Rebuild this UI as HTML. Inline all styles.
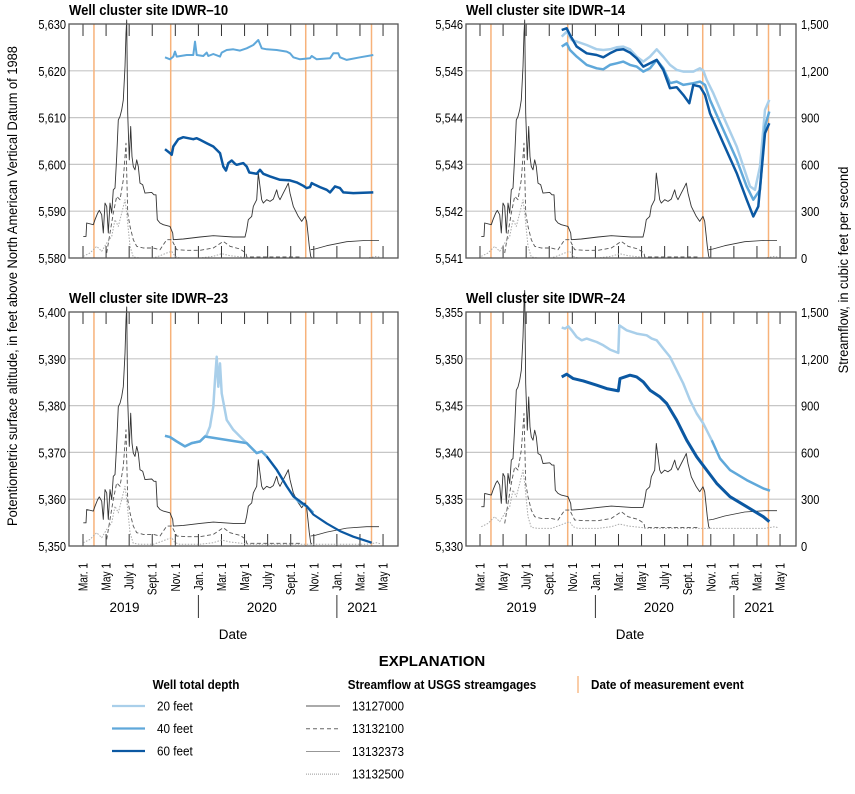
<!DOCTYPE html>
<html><head><meta charset="utf-8"><style>
body{margin:0;background:#fff;width:855px;height:789px;overflow:hidden}
svg{font-family:"Liberation Sans Narrow","Liberation Sans",sans-serif}
</style></head><body>
<svg id="s" width="855" height="789" viewBox="0 0 855 789" xmlns="http://www.w3.org/2000/svg"></svg>
<script>
const S=document.getElementById('s');let H='';
const PALE='#a9cfea',MID='#5fa8da',DARK='#0b58a2',OR='#f7b27a';
const P=[
 {L:69,R:398,T:24,B:258,sh:0, zx0:0,zt:72,zb:775,title:'Well cluster site IDWR\u201310',lab:['5,580','5,590','5,600','5,610','5,620','5,630'],right:false},
 {L:466,R:796,T:24,B:258,sh:398,zx0:430,zt:72,zb:775,title:'Well cluster site IDWR\u201314',lab:['5,541','5,542','5,543','5,544','5,545','5,546'],right:true},
 {L:69,R:398,T:312,B:546,sh:0,zx0:0,zt:75,zb:780,title:'Well cluster site IDWR\u201323',lab:['5,350','5,360','5,370','5,380','5,390','5,400'],right:false},
 {L:466,R:796,T:312,B:546,sh:398,zx0:430,zt:125,zb:828,title:'Well cluster site IDWR\u201324',lab:['5,330','5,335','5,340','5,345','5,350','5,355'],right:true}];
const solid=[[250,710],[258,710],[260,670],[280,675],[285,660],[293,640],[298,632],[305,645],[310,700],[315,610],[320,620],[325,700],[330,610],[335,640],[340,570],[345,565],[350,470],[355,360],[360,350],[365,330],[370,300],[375,200],[378,100],[380,60],[383,340],[388,480],[392,380],[396,470],[400,500],[405,510],[410,480],[415,500],[420,550],[428,555],[435,580],[455,578],[462,585],[468,585],[472,660],[480,670],[490,675],[510,680],[518,700],[520,720],[550,718],[600,712],[640,708],[700,712],[735,712],[740,690],[745,660],[755,650],[760,620],[770,600],[775,520],[780,560],[785,600],[790,610],[800,600],[810,605],[820,598],[830,570],[835,590],[840,600],[850,580],[860,560],[865,550],[870,580],[880,620],[895,650],[905,665],[915,650],[920,665],[928,740],[932,770],[935,775]];
const thin=[[932,750],[945,748],[980,738],[1040,726],[1100,722],[1137,722]];
const dashed=[[320,760],[330,700],[340,640],[350,590],[360,600],[370,540],[378,430],[383,640],[390,680],[400,720],[410,740],[430,745],[460,745],[480,750],[500,720],[515,720],[530,750],[560,752],[600,752],[640,745],[670,725],[690,740],[720,748],[738,760],[740,772],[900,772]];
const dotted=[[250,770],[270,760],[290,740],[305,755],[320,730],[335,710],[345,660],[355,680],[365,640],[375,600],[380,640],[390,740],[400,772],[420,775],[460,775],[480,768],[500,760],[515,755],[525,770],[540,775],[600,775],[640,770],[665,762],[690,768],[735,773],[740,775],[1100,775],[1130,770],[1140,773]];
function pts(a,p,own){return a.map(([x,y])=>{const X=own?p.zx0+x/3:x/3+p.sh;const Y=p.T+(y-p.zt)/(p.zb-p.zt)*(p.B-p.T);return X.toFixed(1)+','+Y.toFixed(1)}).join(' ')}
function line(a,p,own,st){H+=`<polyline points="${pts(a,p,own)}" fill="none" ${st} stroke-linejoin="round"/>`}
const wells=[
 [
  [MID,2,[[495,172],[510,178],[520,170],[525,155],[530,170],[560,165],[580,165],[585,125],[590,165],[610,168],[620,158],[625,168],[640,162],[660,170],[665,158],[680,150],[700,148],[720,152],[740,145],[760,135],[775,120],[785,145],[800,148],[830,150],[860,155],[870,160],[880,172],[900,178],[930,175],[935,168],[950,178],[990,175],[1000,160],[1015,160],[1020,172],[1040,180],[1080,172],[1120,165]]],
  [DARK,2.5,[[495,448],[510,460],[515,465],[520,440],[535,418],[550,412],[580,418],[590,415],[600,420],[620,430],[640,440],[660,460],[670,500],[678,512],[685,490],[695,482],[705,492],[710,495],[730,490],[740,500],[748,518],[770,522],[780,510],[790,522],[810,530],[840,540],[870,542],[890,548],[910,558],[920,565],[930,562],[935,550],[945,555],[960,562],[980,570],[990,578],[1005,560],[1020,565],[1030,578],[1060,580],[1120,578]]]],
 [
  [PALE,2.5,[[395,110],[410,95],[425,120],[440,125],[470,135],[500,148],[520,150],[540,148],[560,142],[580,140],[600,148],[620,170],[640,185],[660,170],[680,148],[700,170],[720,195],[740,210],[760,215],[790,215],[810,205],[820,212],[830,240],[850,280],[880,350],[920,440],[960,560],[975,570],[990,500],[1005,330],[1018,300]]],
  [MID,2.5,[[395,140],[410,130],[420,150],[440,170],[470,195],[500,205],[520,208],[540,195],[560,190],[580,185],[600,195],[620,200],[640,215],[660,205],[680,180],[700,205],[720,250],[740,245],[760,255],[790,250],[810,245],[825,255],[840,300],[880,390],[920,480],[950,560],[970,600],[990,570],[1005,380],[1018,335]]],
  [DARK,2.5,[[395,90],[410,85],[420,105],[440,140],[470,160],[500,165],[520,172],[540,160],[560,150],[580,148],[600,158],[620,175],[640,200],[660,190],[680,180],[700,210],[720,265],[740,262],[760,285],[778,310],[790,255],[810,260],[825,285],[840,340],[880,430],[920,520],[950,600],[970,650],[985,620],[1005,400],[1018,370]]]],
 [
  [PALE,2.5,[[495,448],[510,452],[530,465],[555,480],[575,470],[600,465],[620,445],[630,420],[640,360],[645,280],[650,210],[655,300],[660,230],[665,320],[680,400],[700,430],[720,450],[740,470],[760,490],[770,500],[785,495],[800,510]]],
  [MID,2.5,[[495,448],[510,452],[530,465],[555,480],[575,470],[600,465],[615,450],[740,470],[760,490],[770,500],[785,495],[800,510],[830,550],[860,600],[880,630],[900,650],[920,660],[940,680]]],
  [DARK,2.2,[[800,510],[830,550],[860,600],[880,630],[900,645],[920,660],[940,685],[980,712],[1020,735],[1060,752],[1115,770]]]],
 [
  [PALE,2.5,[[395,172],[405,175],[415,168],[425,180],[440,200],[455,210],[470,205],[485,210],[500,215],[520,225],[540,238],[565,248],[568,165],[590,180],[620,190],[650,195],[665,205],[680,210],[700,235],[720,260],[740,300],[760,340],[780,390],[800,430],[820,460],[845,510]]],
  [MID,2.5,[[845,510],[870,565],[900,600],[950,630],[1000,655],[1020,662]]],
  [DARK,3,[[395,320],[410,312],[430,325],[460,332],[500,345],[530,355],[565,362],[570,325],[600,315],[620,320],[640,335],[660,360],[690,380],[710,400],[740,450],[770,510],[800,560],[830,600],[860,640],[900,680],[950,710],[1000,740],[1018,755]]]]];
const orangeT=[0.95,7.6,19.3,25.0];
P.forEach((p,i)=>{
 const x0=p.L+14;const mx=t=>x0+t*11.54;
 for(let k=1;k<5;k++){const y=p.T+k*(p.B-p.T)/5;H+=`<line x1="${p.L}" x2="${p.R}" y1="${y}" y2="${y}" stroke="#c6c6c6" stroke-width="1.2"/>`}
 for(let k=0;k<14;k++){const x=mx(2*k);H+=`<line x1="${x}" x2="${x}" y1="${p.T}" y2="${p.T+12}" stroke="#333" stroke-width="1"/><line x1="${x}" x2="${x}" y1="${p.B}" y2="${p.B-12}" stroke="#333" stroke-width="1"/>`}
 orangeT.forEach(t=>{const x=mx(t);H+=`<line x1="${x}" x2="${x}" y1="${p.T}" y2="${p.B}" stroke="${OR}" stroke-width="1.5"/>`});
 line(dotted,p,false,'stroke="#aaa" stroke-width="1" stroke-dasharray="1.5,1.5"');
 line(dashed,p,false,'stroke="#555" stroke-width="0.9" stroke-dasharray="4,2.5"');
 line(solid,p,false,'stroke="#333" stroke-width="0.9"');
 line(thin,p,false,'stroke="#333" stroke-width="0.8"');
 wells[i].forEach(([c,w,a])=>line(a,p,true,`stroke="${c}" stroke-width="${w}"`));
 H+=`<rect x="${p.L}" y="${p.T}" width="${p.R-p.L}" height="${p.B-p.T}" fill="none" stroke="#555" stroke-width="1.3"/>`;
 H+=`<text transform="translate(${p.L},${p.T-9}) scale(0.9,1)" font-size="14.5" font-weight="bold">${p.title}</text>`;
 p.lab.forEach((l,k)=>{const y=p.B-k*(p.B-p.T)/5+5;H+=`<text transform="translate(${p.L-3},${y}) scale(0.85,1)" font-size="13" text-anchor="end">${l}</text>`;
  if(p.right)H+=`<text transform="translate(${p.R+5},${y}) scale(0.85,1)" font-size="13">${['0','300','600','900','1,200','1,500'][k]}</text>`});
 if(i>=2){const ms=['Mar. 1','May 1','July 1','Sept. 1','Nov. 1','Jan. 1','Mar. 1','May 1','July 1','Sept. 1','Nov. 1','Jan. 1','Mar. 1','May 1'];
  ms.forEach((m,k)=>{const x=mx(2*k)+4.5;H+=`<text transform="translate(${x},563) rotate(-90) scale(0.78,1)" font-size="13" text-anchor="end">${m}</text>`});
  H+=`<text x="${mx(3.6)}" y="612" font-size="13.5" text-anchor="middle">2019</text><text x="${mx(15.5)}" y="612" font-size="13.5" text-anchor="middle">2020</text><text x="${mx(24.2)}" y="612" font-size="13.5" text-anchor="middle">2021</text>`;
  H+=`<line x1="${mx(10)}" x2="${mx(10)}" y1="595" y2="618" stroke="#333"/><line x1="${mx(22)}" x2="${mx(22)}" y1="595" y2="618" stroke="#333"/>`;
  H+=`<text x="${mx(13)}" y="639" font-size="13.5" text-anchor="middle">Date</text>`;}
});
H+=`<text transform="translate(17,286) rotate(-90) scale(0.92,1)" font-size="14" text-anchor="middle">Potentiometric surface altitude, in feet above North American Vertical Datum of 1988</text>`;
H+=`<text transform="translate(848,270) rotate(-90) scale(0.92,1)" font-size="14" text-anchor="middle">Streamflow, in cubic feet per second</text>`;
H+=`<text x="432" y="666" font-size="15" font-weight="bold" text-anchor="middle">EXPLANATION</text>`;
H+=`<text transform="translate(196,689) scale(0.9,1)" font-size="13" font-weight="bold" text-anchor="middle">Well total depth</text>`;
H+=`<text transform="translate(442,689) scale(0.9,1)" font-size="13" font-weight="bold" text-anchor="middle">Streamflow at USGS streamgages</text>`;
H+=`<line x1="578" x2="578" y1="676" y2="693" stroke="${OR}" stroke-width="1.3"/><text transform="translate(591,689) scale(0.9,1)" font-size="13" font-weight="bold">Date of measurement event</text>`;
[[PALE,'20 feet'],[MID,'40 feet'],[DARK,'60 feet']].forEach(([c,t],k)=>{const y=706+k*22.5;H+=`<line x1="112" x2="145" y1="${y}" y2="${y}" stroke="${c}" stroke-width="2.2"/><text transform="translate(157,${y+4.5}) scale(0.9,1)" font-size="13">${t}</text>`});
[['stroke="#555" stroke-width="1"','13127000'],['stroke="#666" stroke-dasharray="4,3"','13132100'],['stroke="#888" stroke-width="0.9"','13132373'],['stroke="#999" stroke-dasharray="1,1"','13132500']].forEach(([st,t],k)=>{const y=706+k*22.7;H+=`<line x1="306" x2="340" y1="${y}" y2="${y}" ${st}/><text transform="translate(352,${y+4.5}) scale(0.9,1)" font-size="13">${t}</text>`});
S.innerHTML=H;
</script>
</body></html>
